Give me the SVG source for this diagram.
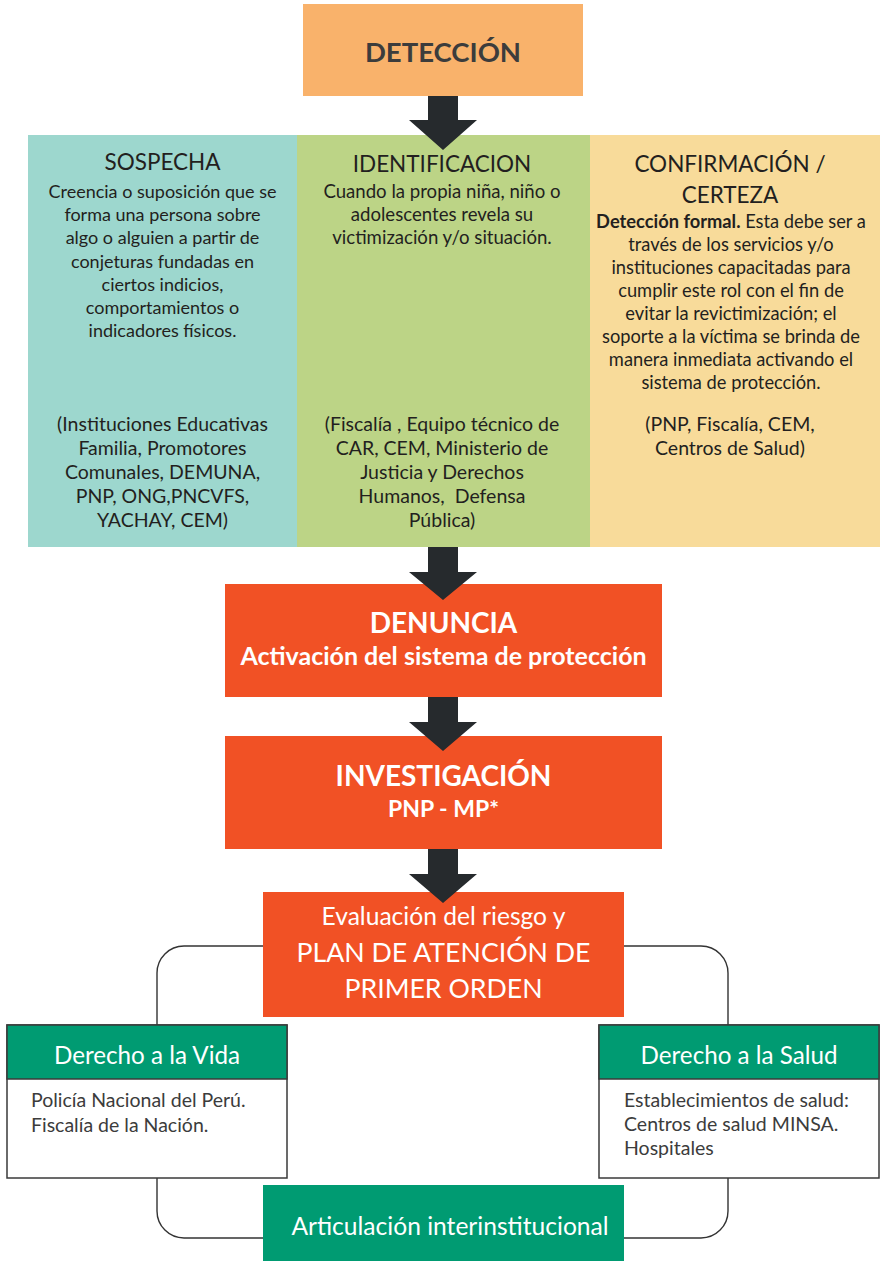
<svg xmlns="http://www.w3.org/2000/svg" width="880" height="1261" viewBox="0 0 880 1261">
<style>
text{font-family:Lato,"Open Sans","Liberation Sans",sans-serif;text-anchor:middle}
.t{font-size:22.5px;fill:#231f20}
.b{font-size:18px;fill:#231f20}
.l{font-size:19.5px;fill:#231f20}
.w{fill:#ffffff}
.bold{font-weight:bold}
.gb{font-size:19.5px;fill:#3c3c3c;text-anchor:start}
.arrow{fill:#262a2d}
.conn{fill:none;stroke:#333333;stroke-width:1.4}
.frame{fill:#ffffff;stroke:#3a3a3a;stroke-width:1.5}
.green{fill:#009b72}
.orange{fill:#f15125}
</style>
<g id="deteccion">
<rect x="303" y="4" width="280" height="92" fill="#f9b26b"/>
<text x="443" y="62" class="bold" style="font-size:27.5px;fill:#3c3c3c">DETECCIÓN</text>
</g>
<g id="sospecha">
<rect x="28" y="135" width="269" height="412" fill="#9dd7ce"/>
<text x="162.5" y="170" class="t">SOSPECHA</text>
<text class="b"><tspan x="162.5" y="198">Creencia o suposición que se</tspan><tspan x="162.5" y="221.2">forma una persona sobre</tspan><tspan x="162.5" y="244.4">algo o alguien a partir de</tspan><tspan x="162.5" y="267.6">conjeturas fundadas en</tspan><tspan x="162.5" y="290.8">ciertos indicios,</tspan><tspan x="162.5" y="314">comportamientos o</tspan><tspan x="162.5" y="337.2">indicadores físicos.</tspan></text>
<text class="l"><tspan x="162.5" y="431">(Instituciones Educativas</tspan><tspan x="162.5" y="455">Familia, Promotores</tspan><tspan x="162.5" y="479">Comunales, DEMUNA,</tspan><tspan x="162.5" y="503">PNP, ONG,PNCVFS,</tspan><tspan x="162.5" y="527">YACHAY, CEM)</tspan></text>
</g>
<g id="identificacion">
<rect x="297" y="135" width="293" height="412" fill="#bcd486"/>
<text x="442" y="172" class="t">IDENTIFICACION</text>
<text class="b" style="font-size:18.6px"><tspan x="442" y="198">Cuando la propia niña, niño o</tspan><tspan x="442" y="221">adolescentes revela su</tspan><tspan x="442" y="244">victimización y/o situación.</tspan></text>
<text class="l"><tspan x="442" y="431">(Fiscalía , Equipo técnico de</tspan><tspan x="442" y="455">CAR, CEM, Ministerio de</tspan><tspan x="442" y="479">Justicia y Derechos</tspan><tspan x="442" y="503" xml:space="preserve">Humanos,  Defensa</tspan><tspan x="442" y="527">Pública)</tspan></text>
</g>
<g id="confirmacion">
<rect x="590" y="135" width="290" height="412" fill="#f8db9a"/>
<text class="t"><tspan x="730" y="172">CONFIRMACIÓN /</tspan><tspan x="730" y="203">CERTEZA</tspan></text>
<text class="b" style="font-size:18.3px"><tspan x="731" y="228"><tspan class="bold">Detección formal.</tspan> Esta debe ser a</tspan><tspan x="731" y="251">través de los servicios y/o</tspan><tspan x="731" y="274">instituciones capacitadas para</tspan><tspan x="731" y="297">cumplir este rol con el fin de</tspan><tspan x="731" y="320">evitar la revictimización; el</tspan><tspan x="731" y="343">soporte a la víctima se brinda de</tspan><tspan x="731" y="366">manera inmediata activando el</tspan><tspan x="731" y="389">sistema de protección.</tspan></text>
<text class="l"><tspan x="730" y="431">(PNP, Fiscalía, CEM,</tspan><tspan x="730" y="455">Centros de Salud)</tspan></text>
</g>
<g id="denuncia">
<rect x="225" y="584" width="437" height="113" class="orange"/>
<text x="443.5" y="633" class="w bold" style="font-size:28px">DENUNCIA</text>
<text x="443.5" y="665" class="w bold" style="font-size:25px">Activación del sistema de protección</text>
</g>
<g id="investigacion">
<rect x="225" y="736" width="437" height="113" class="orange"/>
<text x="443.5" y="786" class="w bold" style="font-size:28px">INVESTIGACIÓN</text>
<text x="443.5" y="817" class="w bold" style="font-size:23px">PNP - MP*</text>
</g>
<g id="evaluacion">
<rect x="263" y="892" width="361" height="125" class="orange"/>
<text x="443.5" y="925" class="w" style="font-size:24.6px">Evaluación del riesgo y</text>
<text x="443.5" y="962" class="w" style="font-size:26.7px">PLAN DE ATENCIÓN DE</text>
<text x="443.5" y="998" class="w" style="font-size:26.7px">PRIMER ORDEN</text>
</g>
<g id="connectors">
<path class="arrow" d="M428,96H458V120H477L443,150L409,120H428Z"/>
<path class="arrow" d="M428,547H458V572H477L443,600L409,572H428Z"/>
<path class="arrow" d="M428,697H458V722H477L443,751L409,722H428Z"/>
<path class="arrow" d="M428,849H458V874H477L443,903L409,874H428Z"/>
<path class="conn" d="M263,946H184A27,27 0 0 0 157,973V1025"/>
<path class="conn" d="M157,1178V1211A27,27 0 0 0 184,1238H263"/>
<path class="conn" d="M624,946H701A27,27 0 0 1 728,973V1025"/>
<path class="conn" d="M728,1178V1211A27,27 0 0 1 701,1238H624"/>
</g>
<g id="derecho-vida">
<rect x="7" y="1025" width="280" height="153" class="frame"/>
<rect x="7" y="1025" width="280" height="54" class="green" stroke="#3a3a3a" stroke-width="1.5"/>
<text x="147" y="1064" class="w" style="font-size:24.2px">Derecho a la Vida</text>
<text class="gb"><tspan x="31" y="1107">Policía Nacional del Perú.</tspan><tspan x="31" y="1132">Fiscalía de la Nación.</tspan></text>
</g>
<g id="derecho-salud">
<rect x="599" y="1025" width="280" height="153" class="frame"/>
<rect x="599" y="1025" width="280" height="54" class="green" stroke="#3a3a3a" stroke-width="1.5"/>
<text x="739" y="1064" class="w" style="font-size:24.2px">Derecho a la Salud</text>
<text class="gb"><tspan x="624" y="1107">Establecimientos de salud:</tspan><tspan x="624" y="1131">Centros de salud MINSA.</tspan><tspan x="624" y="1155">Hospitales</tspan></text>
</g>
<g id="articulacion">
<rect x="263" y="1185" width="361" height="76" class="green"/>
<text x="450" y="1235" class="w" style="font-size:24.6px">Articulación interinstitucional</text>
</g>
</svg>
